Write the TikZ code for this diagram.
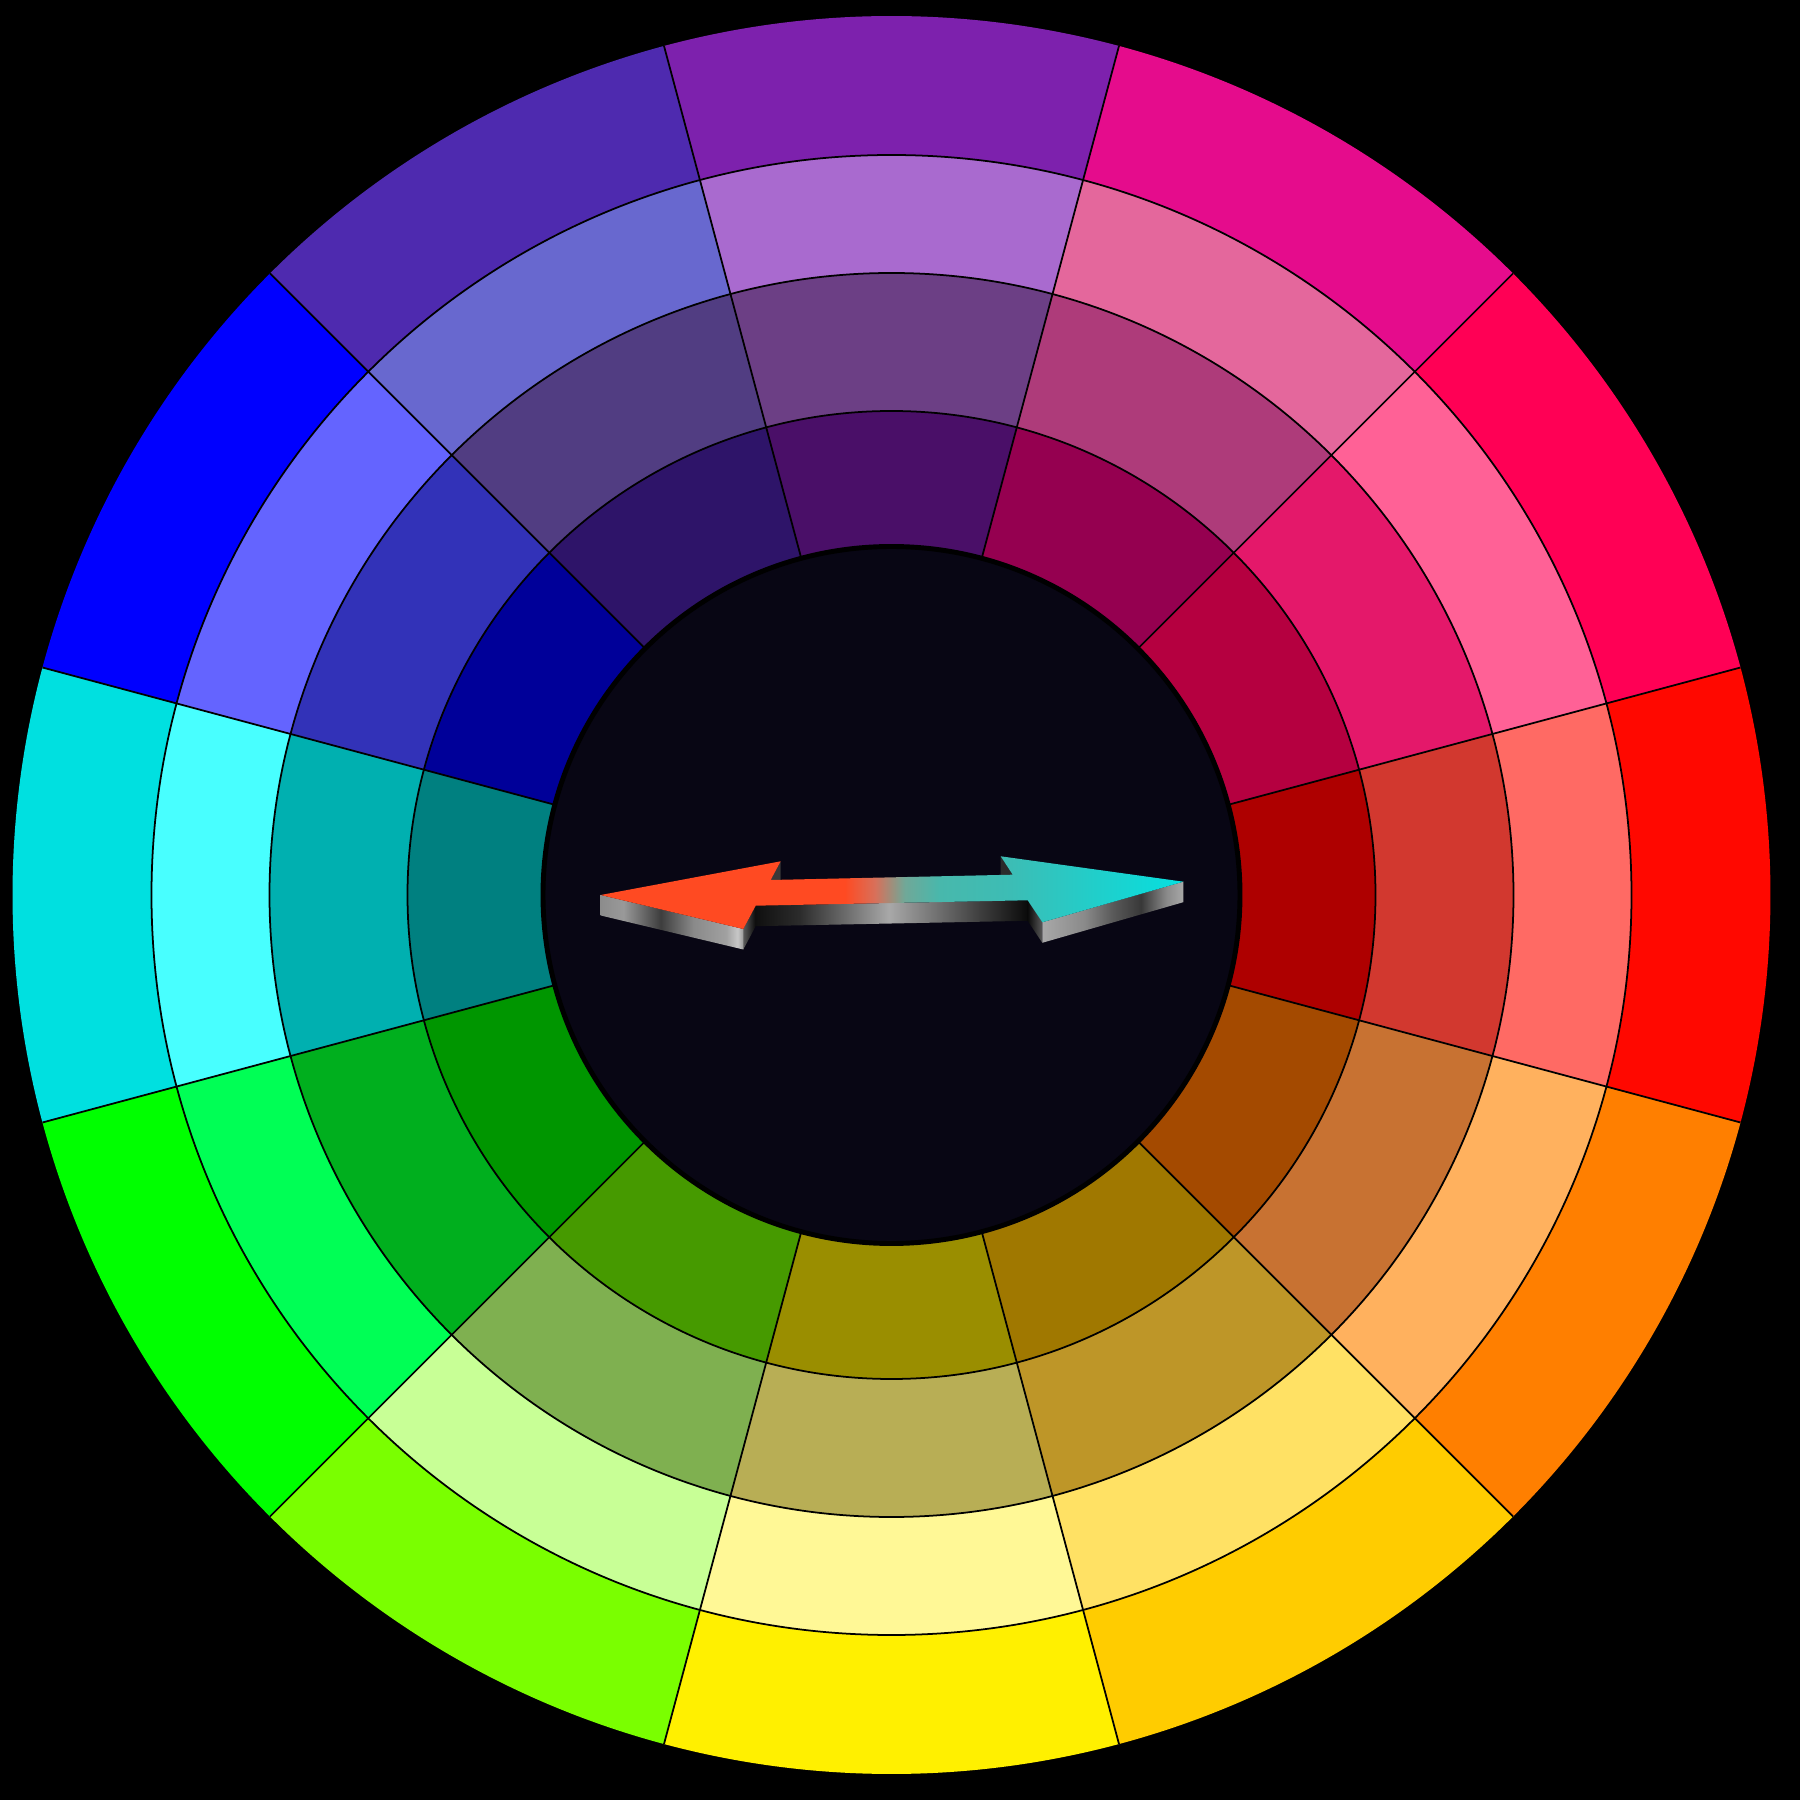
\documentclass[tikz,border=0pt]{standalone}
\usetikzlibrary{calc}
\definecolor{hub}{RGB}{8,6,20}
\definecolor{arOr}{HTML}{FF4A22}
\definecolor{arM1}{HTML}{D8705A}
\definecolor{arM2}{HTML}{70A898}
\definecolor{arM3}{HTML}{48B8AC}
\definecolor{arM4}{HTML}{3CBDB5}
\definecolor{arCy}{HTML}{05E0E0}
\definecolor{gA}{gray}{0.55}
\definecolor{gB}{gray}{0.60}
\definecolor{gC}{gray}{0.24}
\definecolor{gD}{gray}{0.54}
\definecolor{gE}{gray}{0.63}
\definecolor{gF}{gray}{0.78}
\definecolor{gG}{gray}{0.06}
\definecolor{gH}{gray}{0.17}
\definecolor{gI}{gray}{0.66}
\definecolor{gJ}{gray}{0.25}
\definecolor{gK}{gray}{0.04}
\definecolor{gL}{gray}{0.35}
\definecolor{gM}{gray}{0.22}
\pgfdeclarehorizontalshading{arTop}{100bp}{color(0bp)=(arOr); color(25bp)=(arOr); color(45.95bp)=(arOr); color(48.55bp)=(arM1); color(51.1bp)=(arM2); color(54.1bp)=(arM3); color(60.15bp)=(arM4); color(75bp)=(arCy); color(100bp)=(arCy)}
\pgfdeclarehorizontalshading{sideLft}{100bp}{color(0bp)=(gA); color(25bp)=(gA); color(33bp)=(gB); color(46bp)=(gC); color(57.5bp)=(gD); color(69bp)=(gE); color(73bp)=(gF); color(75bp)=(gB); color(100bp)=(gB)}
\pgfdeclarehorizontalshading{sideShaft}{100bp}{color(0bp)=(gG); color(25bp)=(gG); color(33bp)=(gH); color(49.5bp)=(gI); color(66bp)=(gJ); color(75bp)=(gK); color(100bp)=(gK)}
\pgfdeclarehorizontalshading{sideRgt}{100bp}{color(0bp)=(gI); color(25bp)=(gI); color(40bp)=(gD); color(50bp)=(gL); color(60bp)=(gM); color(69bp)=(gD); color(75bp)=(gI); color(100bp)=(gI)}
\pgfdeclarehorizontalshading{barbL}{100bp}{color(0bp)=(gL); color(25bp)=(gL); color(75bp)=(gK); color(100bp)=(gK)}
\pgfdeclarehorizontalshading{barbR}{100bp}{color(0bp)=(gK); color(25bp)=(gK); color(75bp)=(gL); color(100bp)=(gL)}
\newcommand\wheelseg[4]{%
  \fill[#1] ({#4-15.02}:#2) -- ({#4-15.02}:#3) arc[start angle={#4-15.02}, end angle={#4+15.02}, radius=#3] -- ({#4+15.02}:#2) arc[start angle={#4+15.02}, end angle={#4-15.02}, radius=#2] -- cycle;}
\tikzset{segline/.style={draw=black, line width=0.5pt}}
\begin{document}
\begin{tikzpicture}
\fill[black] (0,0) rectangle (18,18);
\useasboundingbox (0,0) rectangle (18,18);
\coordinate (C) at (8.915,9.05);
\begin{scope}[shift={(C)}]
  \foreach \k/\co/\cc/\cb/\ca in {0/FF0800/FF6A64/D2382F/AE0000,
    1/FF0055/FF6196/E4186A/B50040,
    2/E50C8C/E4679C/AE3B7A/950050,
    3/7D21AD/A96ACF/6C3F85/4A0F68,
    4/4E2AAF/6868CF/513D82/2E1469,
    5/0000FF/6464FF/3232B8/000099,
    6/00E0E0/48FFFF/00B0B0/008080,
    7/00FF00/00FF55/00AF1E/009600,
    8/7AFF00/C8FF96/7FB050/469A00,
    9/FFF000/FFF896/B8AE55/9A8E00,
    10/FFCC00/FFE164/BE9628/A07800,
    11/FF7F00/FFB15E/C87232/A44A00} {
    \definecolor{segO}{HTML}{\co}
    \definecolor{segC}{HTML}{\cc}
    \definecolor{segB}{HTML}{\cb}
    \definecolor{segA}{HTML}{\ca}
    \pgfmathsetmacro\ang{30*\k}
    \wheelseg{segO}{7.40}{8.79}{\ang}
    \wheelseg{segC}{6.22}{7.40}{\ang}
    \wheelseg{segB}{4.84}{6.22}{\ang}
    \wheelseg{segA}{3.30}{4.84}{\ang}
  }
  \draw[segline] (0,0) circle[radius=4.84];
  \draw[segline] (0,0) circle[radius=6.22];
  \draw[segline] (0,0) circle[radius=7.40];
  \foreach \a in {15,45,...,345} \draw[segline] (\a:3.4) -- (\a:8.79);
  \filldraw[fill=hub, draw=black, line width=1.4pt] (0,0) circle[radius=3.485];
\end{scope}
% arrow
\def\th{0.205cm}
\coordinate (A) at (6.007,9.05);
\coordinate (B) at (7.807,9.387);
\coordinate (Cs) at (7.707,9.20);
\coordinate (D) at (10.127,9.253);
\coordinate (E) at (10.007,9.437);
\coordinate (F) at (11.833,9.183);
\coordinate (G) at (10.423,8.777);
\coordinate (H) at (10.277,8.997);
\coordinate (I) at (7.557,8.943);
\coordinate (J) at (7.433,8.71);
\fill[gM] (B) -- (Cs) -- ([yshift=-\th]Cs) -- ([yshift=-\th]B) -- cycle;
\fill[gH] (D) -- (E) -- ([yshift=-\th]E) -- ([yshift=-\th]D) -- cycle;
\shade[shading=barbL] (J) -- (I) -- ([yshift=-\th]I) -- ([yshift=-\th]J) -- cycle;
\shade[shading=barbR] (H) -- (G) -- ([yshift=-\th]G) -- ([yshift=-\th]H) -- cycle;
\shade[shading=sideShaft] (I) -- (H) -- ([yshift=-\th]H) -- ([yshift=-\th]I) -- cycle;
\shade[shading=sideLft] (A) -- (J) -- ([yshift=-\th]J) -- ([yshift=-\th]A) -- cycle;
\shade[shading=sideRgt] (G) -- (F) -- ([yshift=-\th]F) -- ([yshift=-\th]G) -- cycle;
\shade[shading=arTop] (A) -- (B) -- (Cs) -- (D) -- (E) -- (F) -- (G) -- (H) -- (I) -- (J) -- cycle;
\end{tikzpicture}
\end{document}
